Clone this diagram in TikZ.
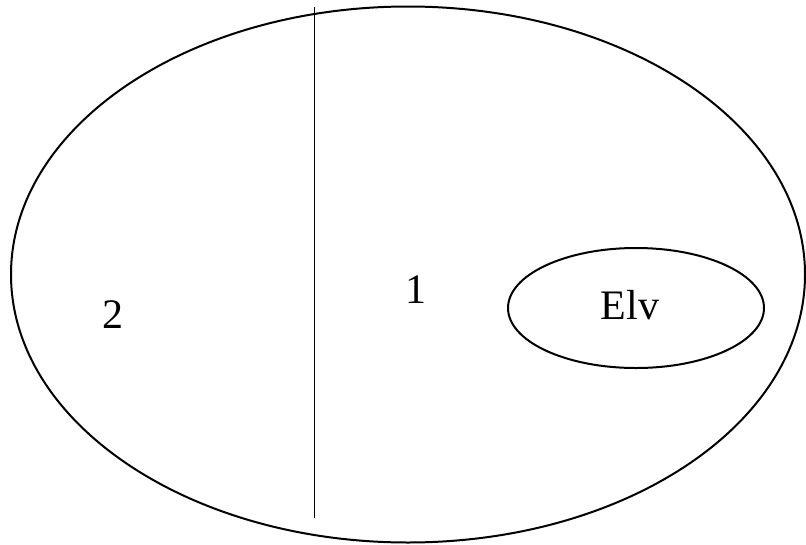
\documentclass[tikz,border=0pt]{standalone}
\usepackage{fontspec}
\setmainfont{Liberation Serif}
\usetikzlibrary{shapes.geometric}

\begin{document}
\begin{tikzpicture}[x=1pt, y=-1pt,
	region/.style = {font=\fontsize{42}{50}\selectfont, inner sep=0pt},
	subset/.style = {ellipse, draw, line width=2pt, minimum width=256pt, minimum height=120pt, inner sep=0pt}]
	
	% Background bounding box
	\useasboundingbox (0,0) rectangle (806,544);
	
	% Universe and its dividing line
	\draw[line width=2pt] (408,274.5) ellipse (397pt and 268pt);
	\coordinate (cuttop) at (314.5,7);
	\coordinate (cutbot) at (314.5,518);
	\draw[line width=1.5pt] (cuttop) -- (cutbot);
	
	% Subset inside part 1
	\node[subset] (elv) at (636,308) {};
	\node[region] (elvlabel) at (630,305) {Elv};
	
	% Part labels
	\node[region] (part2) at (113,315) {2};
	\node[region] (part1) at (415.5,289.5) {1};
	
\end{tikzpicture}
\end{document}
